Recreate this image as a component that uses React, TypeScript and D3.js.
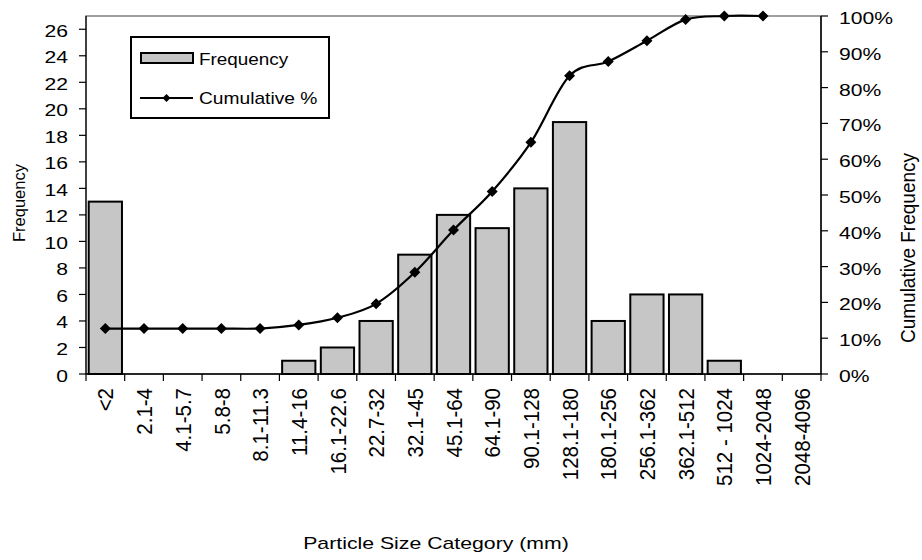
import React from "react";
import * as d3 from "d3";

const categories = ["<2", "2.1-4", "4.1-5.7", "5.8-8", "8.1-11.3", "11.4-16", "16.1-22.6", "22.7-32", "32.1-45", "45.1-64", "64.1-90", "90.1-128", "128.1-180", "180.1-256", "256.1-362", "362.1-512", "512 - 1024", "1024-2048", "2048-4096"];
const frequency = [13, 0, 0, 0, 0, 1, 2, 4, 9, 12, 11, 14, 19, 4, 6, 6, 1, 0, 0];
const cumulativeCategories = categories.slice(0, 18);
const cumulative = [0.127, 0.127, 0.127, 0.127, 0.127, 0.137, 0.157, 0.196, 0.284, 0.402, 0.51, 0.647, 0.833, 0.873, 0.931, 0.99, 1.0, 1.0];
const leftTicks = [0, 2, 4, 6, 8, 10, 12, 14, 16, 18, 20, 22, 24, 26];
const rightTicks = [0, 0.1, 0.2, 0.3, 0.4, 0.5, 0.6, 0.7, 0.8, 0.9, 1.0];

const W = 922, H = 560;
const L = 86, R = 821, T = 16, B = 374;
const FONT = "'Liberation Sans', Arial, sans-serif";

function HText({ x, y, sx, anchor, size, children }: any) {
  return (
    <text transform={`translate(${x},${y}) scale(${sx},1)`} textAnchor={anchor} fontSize={size} fontFamily={FONT} fill="#000">
      {children}
    </text>
  );
}

export default function App() {
  const x = d3.scaleBand<string>().domain(categories).range([L, R]).paddingInner(0).paddingOuter(0);
  const yL = d3.scaleLinear().domain([0, 27]).range([B, T]);
  const yR = d3.scaleLinear().domain([0, 1]).range([B, T]);
  const bw = x.bandwidth();
  const barW = bw * 0.86;

  const line = d3.line<number>()
    .x((_, i) => (x(cumulativeCategories[i]) as number) + bw / 2)
    .y((d) => yR(d))
    .curve(d3.curveCatmullRom.alpha(0));

  const diamond = (cx: number, cy: number, r: number) =>
    `M${cx},${cy - r}L${cx + r},${cy}L${cx},${cy + r}L${cx - r},${cy}Z`;

  return (
    <svg width={W} height={H} style={{ position: "absolute", left: 0, top: 0 }}>
      <rect x={0} y={0} width={W} height={H} fill="#fff" />
      <rect x={L} y={T} width={R - L} height={B - T} fill="none" stroke="#808080" strokeWidth={1.5} />
      {categories.map((c, i) =>
        frequency[i] > 0 ? (
          <rect key={c} x={(x(c) as number) + (bw - barW) / 2} y={yL(frequency[i])} width={barW} height={B - yL(frequency[i])}
            fill="#c6c6c6" stroke="#000" strokeWidth={2} />
        ) : null
      )}
      <line x1={L} x2={L} y1={T} y2={B} stroke="#222" strokeWidth={1.5} />
      <line x1={R} x2={R} y1={T} y2={B} stroke="#000" strokeWidth={1.5} />
      <line x1={L} x2={R} y1={B} y2={B} stroke="#000" strokeWidth={1.5} />
      {leftTicks.map((t) => (
        <g key={"l" + t}>
          <line x1={L - 7} x2={L} y1={yL(t)} y2={yL(t)} stroke="#000" strokeWidth={1.2} />
          <HText x={68} y={yL(t) + 7.5} sx={1.32} anchor="end" size={16}>{t}</HText>
        </g>
      ))}
      {rightTicks.map((t) => (
        <g key={"r" + t}>
          <line x1={R} x2={R + 7} y1={yR(t)} y2={yR(t)} stroke="#000" strokeWidth={1.2} />
          <HText x={839} y={yR(t) + 8} sx={1.32} anchor="start" size={16}>{Math.round(t * 100) + "%"}</HText>
        </g>
      ))}
      {categories.map((c) => (
        <line key={"bt" + c} x1={x(c) as number} x2={x(c) as number} y1={B} y2={B + 7} stroke="#000" strokeWidth={1.2} />
      ))}
      <line x1={R} x2={R} y1={B} y2={B + 7} stroke="#000" strokeWidth={1.2} />
      {categories.map((c) => {
        const cx = (x(c) as number) + bw / 2;
        return (
          <text key={"xl" + c} transform={`translate(${cx},388) scale(1.1,1) rotate(-90)`} dy="0.36em" textAnchor="end"
            fontSize={20.5} fontFamily={FONT} fill="#000">{c}</text>
        );
      })}
      <path d={line(cumulative) || ""} fill="none" stroke="#000" strokeWidth={2.2} />
      {cumulative.map((v, i) => (
        <path key={"m" + i} d={diamond((x(cumulativeCategories[i]) as number) + bw / 2, yR(v), 5.5)} fill="#000" />
      ))}
      <rect x={131} y={37} width={198} height={81} fill="#fff" stroke="#000" strokeWidth={2} />
      <rect x={141} y={53} width={52} height={10} fill="#c6c6c6" stroke="#000" strokeWidth={2} />
      <HText x={199} y={65} sx={1.18} anchor="start" size={16}>Frequency</HText>
      <line x1={140} x2={193} y1={98} y2={98} stroke="#000" strokeWidth={2} />
      <path d={diamond(166.5, 98, 4)} fill="#000" />
      <HText x={199} y={104} sx={1.2} anchor="start" size={16}>Cumulative %</HText>
      <HText x={436} y={549} sx={1.25} anchor="middle" size={17}>Particle Size Category (mm)</HText>
      <text transform="translate(25,203) rotate(-90)" textAnchor="middle" fontSize={16.5} fontFamily={FONT} fill="#000">Frequency</text>
      <text transform="translate(915,248) scale(1.1,1) rotate(-90)" textAnchor="middle" fontSize={19} fontFamily={FONT} fill="#000">Cumulative Frequency</text>
    </svg>
  );
}
